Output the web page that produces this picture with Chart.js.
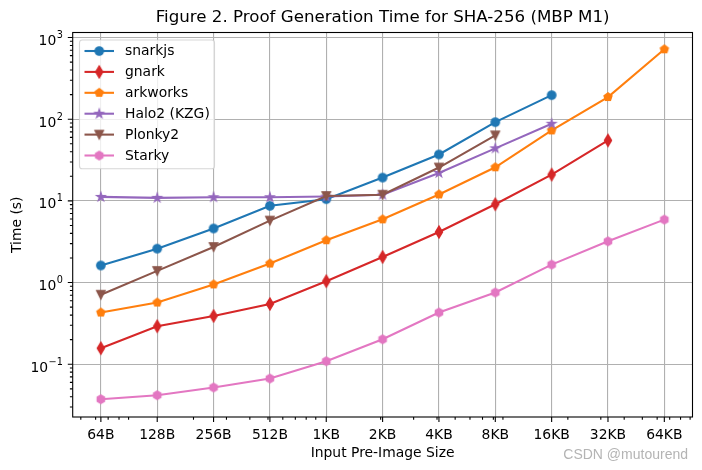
<!DOCTYPE html>
<html>
<head>
<meta charset="utf-8">
<script src="https://cdn.jsdelivr.net/npm/chart.js@4.4.1/dist/chart.umd.min.js"></script>
<style>
  html, body { margin: 0; padding: 0; background: #ffffff; }
  #wrap { width: 702px; height: 470px; position: relative; }
</style>
</head>
<body>
<div id="wrap"><canvas id="c" width="702" height="470"></canvas></div>
<script>
// ---------------- data ----------------
const categories = ['64B', '128B', '256B', '512B', '1KB', '2KB', '4KB', '8KB', '16KB', '32KB', '64KB'];
const sizesBytes = [64, 128, 256, 512, 1024, 2048, 4096, 8192, 16384, 32768, 65536];
const seriesNames = ['snarkjs', 'gnark', 'arkworks', 'Halo2 (KZG)', 'Plonky2', 'Starky'];
const snarkjs  = [1.62, 2.6, 4.6, 8.7, 10.5, 19.3, 37, 92, 197, null, null];
const gnark    = [0.157, 0.292, 0.39, 0.547, 1.04, 2.06, 4.16, 9.1, 21, 55, null];
const arkworks = [0.43, 0.57, 0.95, 1.71, 3.3, 5.95, 12.0, 25.8, 73, 187, 718];
const halo2    = [11.2, 10.9, 11.1, 11.1, 11.3, 11.9, 22, 44, 88, null, null];
const plonky2  = [0.71, 1.39, 2.73, 5.74, 11.5, 11.9, 25.6, 63.5, null, null, null];
const starky   = [0.0373, 0.0418, 0.052, 0.0668, 0.109, 0.202, 0.43, 0.755, 1.66, 3.2, 5.9];
const yMajorTicks = [0.1, 1, 10, 100, 1000];
const yTickBase = '10';
const yTickExponents = ['\u22121', '0', '1', '2', '3'];

// ---------------- styles ----------------
const colors = ['#1f77b4', '#d62728', '#ff7f0e', '#9467bd', '#8c564b', '#e377c2'];
const markers = ['circle', 'thinDiamond', 'pentagon', 'star', 'triangleDown', 'hexagon'];
const FONT = "'DejaVu Sans', sans-serif";
const MS = 8.33;     // marker size (6pt @100dpi)
const MEW = 1.39;    // marker edge width
const LW = 2.08;     // line width

function polyPts(n, r, startDeg) {
  const pts = [];
  for (let i = 0; i < n; i++) {
    const a = (startDeg + i * 360 / n) * Math.PI / 180;
    pts.push([r * Math.cos(a), r * Math.sin(a)]);
  }
  return pts;
}
function markerPath(ctx, shape, cx, cy) {
  const r = MS / 2;
  ctx.beginPath();
  let pts = null;
  if (shape === 'circle') { ctx.arc(cx, cy, r, 0, Math.PI * 2); return; }
  if (shape === 'thinDiamond') { const h = MS * 0.7071; pts = [[0, -h], [0.6 * h, 0], [0, h], [-0.6 * h, 0]]; }
  if (shape === 'pentagon') pts = polyPts(5, r, -90);
  if (shape === 'hexagon') pts = polyPts(6, r, -90);
  if (shape === 'triangleDown') pts = [[0, r], [-r, -r], [r, -r]];
  if (shape === 'star') {
    pts = [];
    for (let i = 0; i < 10; i++) {
      const rr = i % 2 === 0 ? r : r * 0.381966;
      const a = (-90 + i * 36) * Math.PI / 180;
      pts.push([rr * Math.cos(a), rr * Math.sin(a)]);
    }
  }
  pts.forEach((p, i) => { if (i === 0) ctx.moveTo(cx + p[0], cy + p[1]); else ctx.lineTo(cx + p[0], cy + p[1]); });
  ctx.closePath();
}
function makeMarker(shape, color) {
  const c = document.createElement('canvas');
  c.width = 16; c.height = 16;
  const ctx = c.getContext('2d');
  markerPath(ctx, shape, 8, 8);
  ctx.fillStyle = color; ctx.fill();
  ctx.lineWidth = MEW; ctx.strokeStyle = color; ctx.lineJoin = 'miter'; ctx.stroke();
  return c;
}

const seriesValues = [snarkjs, gnark, arkworks, halo2, plonky2, starky];
const N = seriesValues.length;
const datasets = seriesValues.map((vals, i) => ({
  label: seriesNames[i],
  data: vals.map((v, j) => ({ x: sizesBytes[j], y: v })).filter(p => p.y !== null),
  borderColor: colors[i],
  backgroundColor: colors[i],
  borderWidth: LW,
  pointStyle: makeMarker(markers[i], colors[i]),
  pointRadius: 5,
  pointHoverRadius: 5,
  tension: 0,
  fill: false,
  order: N - 1 - i
}));

const xMin = 64 / Math.SQRT2, xMax = 65536 * Math.SQRT2;
const yMin = 0.0226, yMax = 1153;

function minorValues(lo, hi) {
  const out = [];
  for (let e = Math.floor(Math.log10(lo)); e <= Math.ceil(Math.log10(hi)); e++) {
    for (let k = 2; k <= 9; k++) {
      const v = k * Math.pow(10, e);
      if (v >= lo && v <= hi) out.push(v);
    }
  }
  return out;
}

const decoPlugin = {
  id: 'deco',
  afterDatasetsDraw(chart) {
    const ctx = chart.ctx;
    const a = chart.chartArea;
    const xs = chart.scales.x, ys = chart.scales.y;
    ctx.save();
    // frame
    ctx.strokeStyle = '#000'; ctx.lineWidth = 1.1;
    ctx.strokeRect(a.left, a.top, a.right - a.left, a.bottom - a.top);
    // ticks
    ctx.beginPath();
    sizesBytes.forEach(v => { const p = xs.getPixelForValue(v); ctx.moveTo(p, a.bottom); ctx.lineTo(p, a.bottom + 4.9); });
    minorValues(xMin, xMax).forEach(v => { const p = xs.getPixelForValue(v); ctx.moveTo(p, a.bottom); ctx.lineTo(p, a.bottom + 2.8); });
    yMajorTicks.forEach(v => { const p = ys.getPixelForValue(v); ctx.moveTo(a.left, p); ctx.lineTo(a.left - 4.9, p); });
    minorValues(yMin, yMax).forEach(v => { const p = ys.getPixelForValue(v); ctx.moveTo(a.left, p); ctx.lineTo(a.left - 2.8, p); });
    ctx.lineWidth = 1.1; ctx.strokeStyle = '#000'; ctx.stroke();

    // y tick labels: 10 with superscript exponent
    ctx.fillStyle = '#000';
    ctx.textBaseline = 'alphabetic';
    yMajorTicks.forEach((v, i) => {
      const p = ys.getPixelForValue(v);
      const right = a.left - 9.8;
      ctx.font = '9.7px ' + FONT;
      ctx.textAlign = 'right';
      const ew = ctx.measureText(yTickExponents[i]).width;
      ctx.fillText(yTickExponents[i], right, p + 0.5);
      ctx.font = '13.9px ' + FONT;
      ctx.fillText(yTickBase, right - ew - 0.5, p + 7.5);
    });

    // legend
    const lx = a.left + 6.8, ly = a.top + 7.5, lw = 135, lh = 128.7;
    ctx.beginPath();
    if (ctx.roundRect) ctx.roundRect(lx, ly, lw, lh, 2.8); else ctx.rect(lx, ly, lw, lh);
    ctx.fillStyle = 'rgba(255,255,255,0.8)'; ctx.fill();
    ctx.strokeStyle = 'rgba(204,204,204,0.8)'; ctx.lineWidth = 1.1; ctx.stroke();
    ctx.font = '13.9px ' + FONT;
    ctx.textBaseline = 'middle'; ctx.textAlign = 'left';
    seriesNames.forEach((name, i) => {
      const yy = ly + 11 + i * 20.9;
      ctx.beginPath(); ctx.moveTo(lx + 5, yy); ctx.lineTo(lx + 34.5, yy);
      ctx.strokeStyle = colors[i]; ctx.lineWidth = LW; ctx.stroke();
      const img = chart.data.datasets[i].pointStyle;
      ctx.drawImage(img, lx + 19.7 - 8, yy - 8);
      ctx.fillStyle = '#000';
      ctx.fillText(name, lx + 45.5, yy + 0.5);
    });

    // watermark
    ctx.font = "14px 'Liberation Sans', Arial, sans-serif";
    ctx.fillStyle = '#b4b4b4'; ctx.textAlign = 'right';
    ctx.fillText('CSDN @mutourend', 688, 455);
    ctx.restore();
  }
};

new Chart(document.getElementById('c'), {
  type: 'line',
  data: { datasets },
  options: {
    responsive: false,
    animation: false,
    layout: { padding: { left: 0, right: 9.5, top: 0, bottom: 0 } },
    plugins: {
      legend: { display: false },
      tooltip: { enabled: false },
      title: {
        display: true,
        text: 'Figure 2. Proof Generation Time for SHA-256 (MBP M1)',
        fullSize: false,
        color: '#000',
        font: { family: FONT, size: 16.67, weight: 'normal' },
        padding: { top: 8, bottom: 4.5 }
      }
    },
    scales: {
      x: {
        type: 'logarithmic',
        min: xMin, max: xMax,
        afterBuildTicks: s => { s.ticks = sizesBytes.map(v => ({ value: v })); },
        afterFit: s => { s.height = 53; },
        grid: { color: '#b0b0b0', lineWidth: 1.1, drawTicks: false },
        border: { display: false },
        ticks: {
          autoSkip: false, maxRotation: 0, minRotation: 0, padding: 9.8,
          color: '#000', font: { family: FONT, size: 13.9 },
          callback: (v, i) => categories[i]
        },
        title: {
          display: true, text: 'Input Pre-Image Size', color: '#000',
          font: { family: FONT, size: 13.9 }, padding: { top: 0, bottom: 8.7 }
        }
      },
      y: {
        type: 'logarithmic',
        min: yMin, max: yMax,
        afterBuildTicks: s => { s.ticks = yMajorTicks.map(v => ({ value: v })); },
        afterFit: s => { s.width = 72.7; },
        grid: { color: '#b0b0b0', lineWidth: 1.1, drawTicks: false },
        border: { display: false },
        ticks: { display: false },
        title: {
          display: true, text: 'Time (s)', color: '#000',
          font: { family: FONT, size: 13.9 }, padding: { top: 9.5, bottom: 0 }
        }
      }
    }
  },
  plugins: [decoPlugin]
});
</script>
</body>
</html>
